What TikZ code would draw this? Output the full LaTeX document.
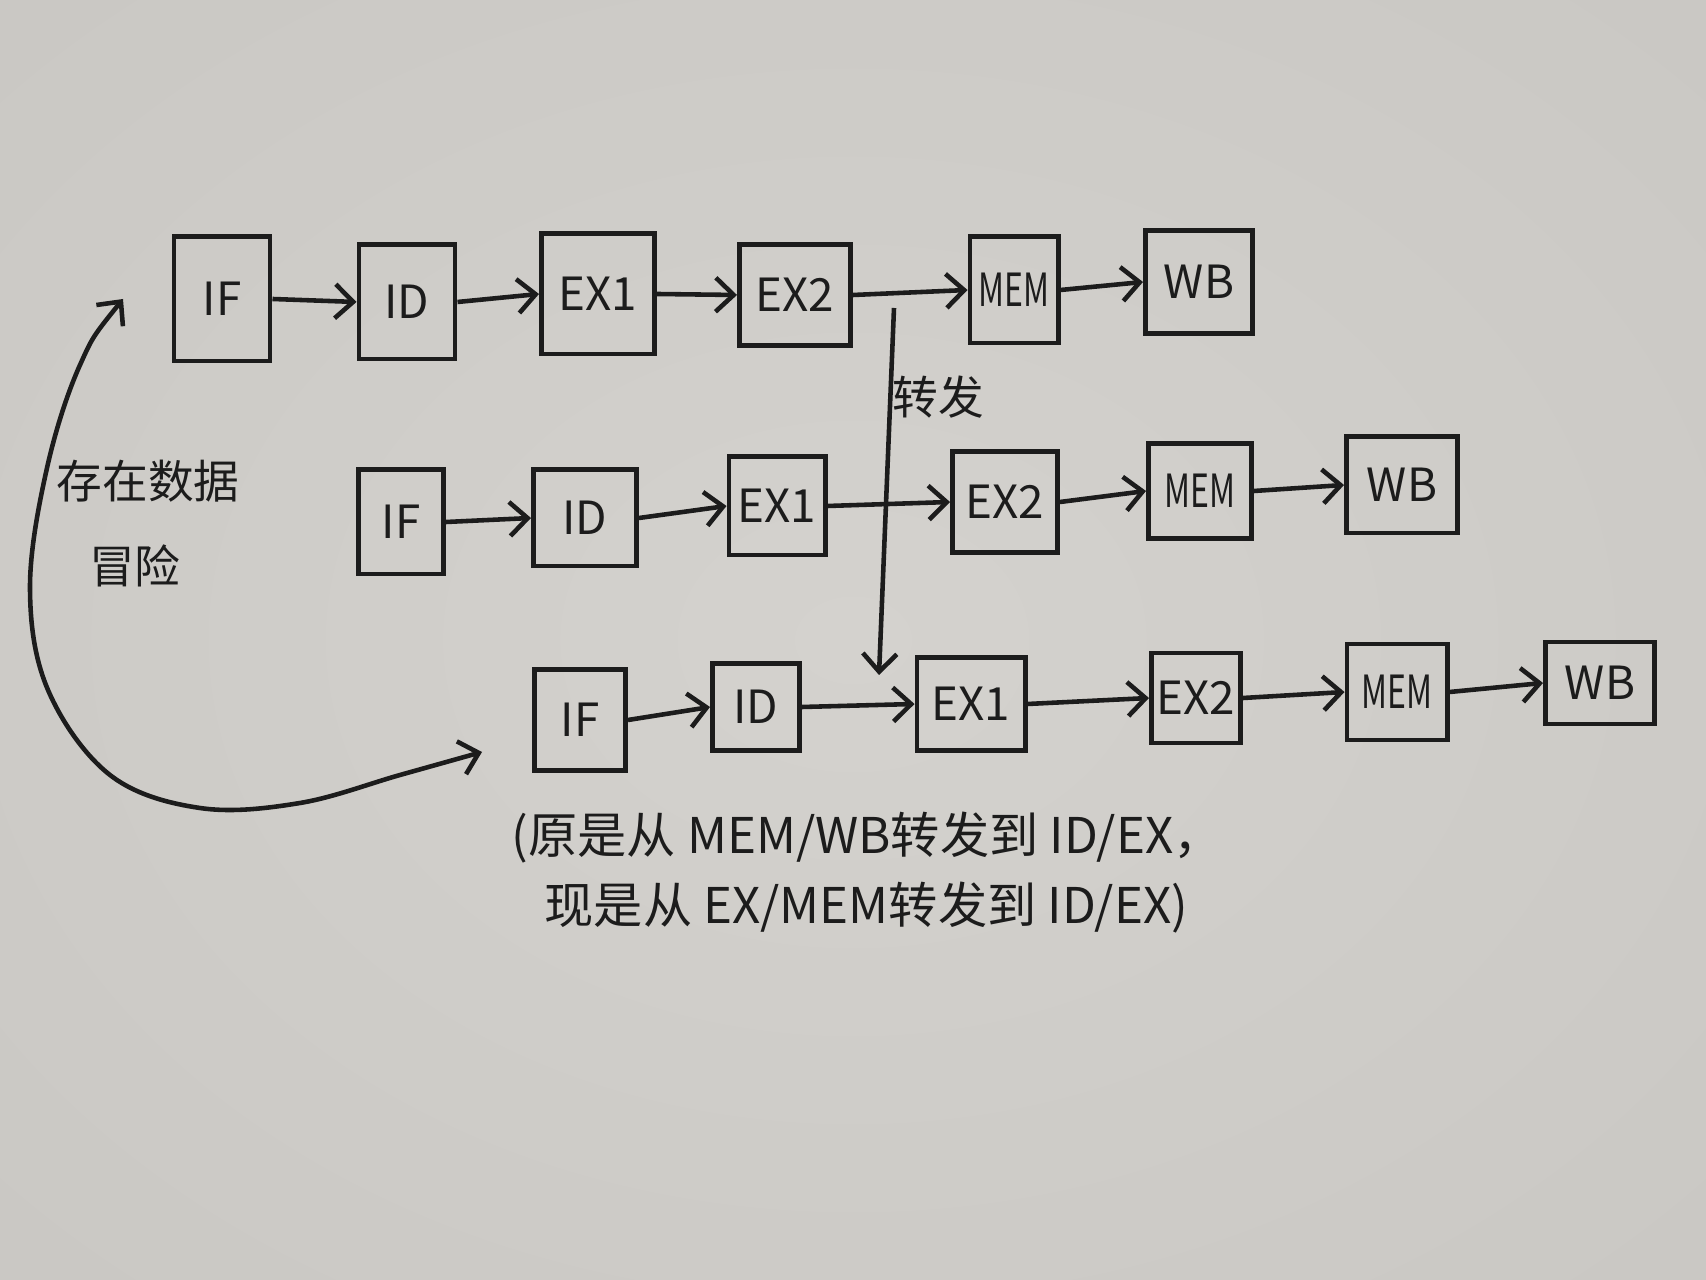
\documentclass[tikz,border=0pt]{standalone}
\usepackage{fontspec}
\usepackage{graphicx}
\setmainfont{Noto Sans CJK SC}
\usetikzlibrary{arrows.meta}

\definecolor{ink}{RGB}{28,28,28}
\definecolor{paperA}{RGB}{212,210,206}
\definecolor{paperB}{RGB}{196,194,190}
\definecolor{paperC}{RGB}{135,132,129}
\pgfdeclareradialshading{paper}{\pgfpoint{0bp}{0bp}}{color(0bp)=(paperA); color(55bp)=(paperB); color(100bp)=(paperC)}

% squeezed label for the narrow MEM stages
\newcommand\memtxt{\scalebox{0.7}[1]{MEM}}

\tikzset{
  stage/.style={draw=ink, line width=1.4pt, inner sep=0pt, text=ink,
    font=\fontsize{13}{16}\selectfont},
  flow/.style={draw=ink, line width=1.3pt,
    -{Straight Barb[length=1.8mm,width=3.4mm]}},
  note/.style={text=ink, inner sep=0pt, font=\fontsize{14}{17}\selectfont},
}

\begin{document}
\begin{tikzpicture}[x=0.01cm, y=-0.01cm]
  % paper
  \shade[shading=paper] (0,0) rectangle (1706,1280);
  \useasboundingbox (0,0) rectangle (1706,1280);

  % instruction 1
  \node[stage, minimum width=0.96cm, minimum height=1.24cm] (r1if)  at (222,299)  {IF};
  \node[stage, minimum width=0.96cm, minimum height=1.14cm] (r1id)  at (407,302)  {ID};
  \node[stage, minimum width=1.13cm, minimum height=1.20cm] (r1exa) at (598,294)  {EX1};
  \node[stage, minimum width=1.11cm, minimum height=1.01cm] (r1exb) at (795,295)  {EX2};
  \node[stage, minimum width=0.88cm, minimum height=1.06cm] (r1mem) at (1014,290) {\memtxt};
  \node[stage, minimum width=1.07cm, minimum height=1.03cm] (r1wb)  at (1199,282) {WB};

  % instruction 2
  \node[stage, minimum width=0.85cm, minimum height=1.04cm] (r2if)  at (401,522)  {IF};
  \node[stage, minimum width=1.03cm, minimum height=0.96cm] (r2id)  at (585,518)  {ID};
  \node[stage, minimum width=0.96cm, minimum height=0.98cm] (r2exa) at (777,506)  {EX1};
  \node[stage, minimum width=1.05cm, minimum height=1.01cm] (r2exb) at (1005,502) {EX2};
  \node[stage, minimum width=1.03cm, minimum height=0.95cm] (r2mem) at (1200,491) {\memtxt};
  \node[stage, minimum width=1.11cm, minimum height=0.96cm] (r2wb)  at (1402,485) {WB};

  % instruction 3
  \node[stage, minimum width=0.91cm, minimum height=1.01cm] (r3if)  at (580,720)  {IF};
  \node[stage, minimum width=0.87cm, minimum height=0.87cm] (r3id)  at (756,707)  {ID};
  \node[stage, minimum width=1.08cm, minimum height=0.93cm] (r3exa) at (971,704)  {EX1};
  \node[stage, minimum width=0.89cm, minimum height=0.90cm] (r3exb) at (1196,698) {EX2};
  \node[stage, minimum width=1.00cm, minimum height=0.96cm] (r3mem) at (1397,692) {\memtxt};
  \node[stage, minimum width=1.09cm, minimum height=0.82cm] (r3wb)  at (1600,683) {WB};

  % stage-to-stage flow
  \foreach \r in {r1,r2,r3}{
    \draw[flow] (\r if.east)  -- (\r id.west);
    \draw[flow] (\r id.east)  -- (\r exa.west);
    \draw[flow] (\r exa.east) -- (\r exb.west);
    \draw[flow] (\r exb.east) -- (\r mem.west);
    \draw[flow] (\r mem.east) -- (\r wb.west);
  }

  % forwarding path
  \coordinate (fwdA) at (894,308);
  \coordinate (fwdB) at (879,675);
  \draw[flow] (fwdA) -- (fwdB);
  \node[note, font=\fontsize{13}{15}\selectfont] (fwdlbl) at (938,397) {转发};

  % data hazard between instruction 1 and instruction 3
  \coordinate (hzA) at (123,299);
  \coordinate (hzB) at (482,752);
  \draw[flow, {Straight Barb[length=1.8mm,width=3.4mm]}-{Straight Barb[length=1.8mm,width=3.4mm]}]
    plot[smooth, tension=0.6] coordinates
    {(hzA) (80,365) (47,468) (30,588) (48,690) (110,775) (200,808) (300,803) (400,775) (hzB)};
  \node[note, font=\fontsize{13}{16}\selectfont] (hzlbl1) at (148,481) {存在数据};
  \node[note, font=\fontsize{13}{16}\selectfont] (hzlbl2) at (135,566) {冒险};

  % explanatory note
  \node[note, anchor=west] (note1) at (511,838) {(原是从 MEM/WB转发到 ID/EX，};
  \node[note, anchor=west] (note2) at (544,908) {现是从 EX/MEM转发到 ID/EX)};
\end{tikzpicture}
\end{document}
